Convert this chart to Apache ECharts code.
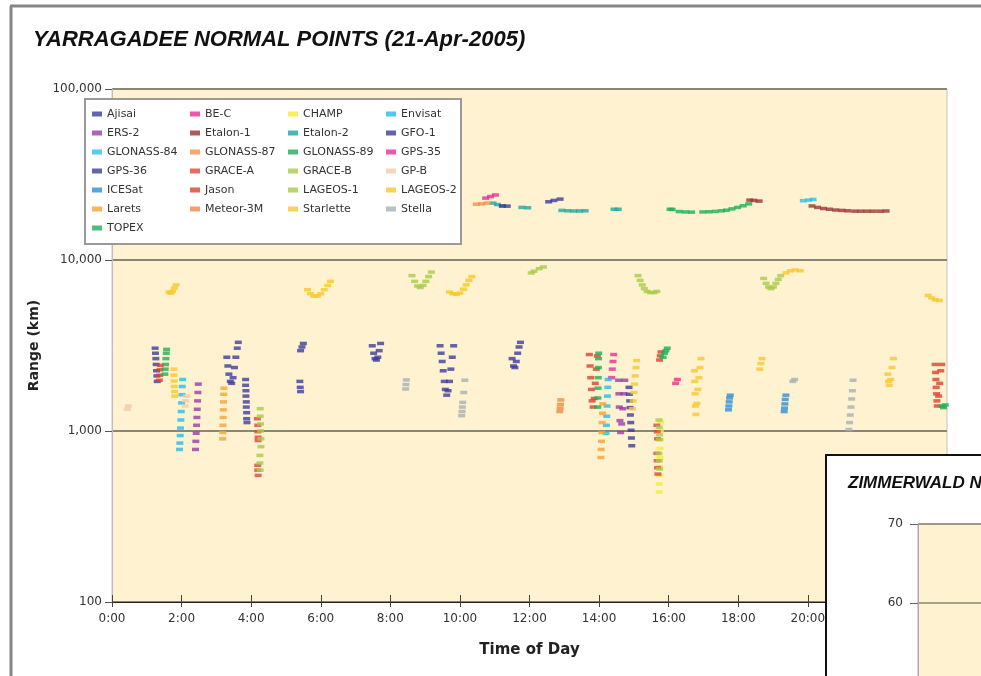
<!DOCTYPE html>
<html><head><meta charset="utf-8">
<script src="https://cdn.jsdelivr.net/npm/echarts@6/dist/echarts.min.js"></script>
<style>html,body{margin:0;padding:0;background:#fff}#c{width:981px;height:676px}</style>
</head><body><div id="c"></div>
<script>
// ---- data (hour of day, range km) ----
const satNames = ['Ajisai','BE-C','CHAMP','Envisat','ERS-2','Etalon-1','Etalon-2','GFO-1','GLONASS-84','GLONASS-87','GLONASS-89','GPS-35','GPS-36','GRACE-A','GRACE-B','GP-B','ICESat','Jason','LAGEOS-1','LAGEOS-2','Larets','Meteor-3M','Starlette','Stella','TOPEX'];
const satColors = ['#3b3c9f','#ee2d93','#f4ec3a','#22bdef','#9a3ca8','#9b3636','#21a5a5','#3b3c9f','#2ac0f0','#f0924a','#1eae58','#ee2d93','#3b3c9f','#dd4640','#a8cb48','#f6c9a6','#2d8ed6','#d9422f','#a8cb48','#f8c82c','#f7a233','#f08a42','#f8c82c','#a8b0b8','#1eae58'];

const ajisai = [[1.24,3050],[1.25,2850],[1.26,2650],[1.27,2450],[1.28,2250],[1.29,2100],[1.30,1950],
 [3.30,2700],[3.33,2400],[3.36,2150],[3.40,1950],[3.44,1900],[3.48,2050],[3.52,2350],[3.56,2700],[3.60,3050],[3.63,3300],
 [5.42,2950],[5.46,3100],[5.50,3250],
 [7.48,3150],[7.52,2850],[7.56,2650],[7.60,2600],[7.64,2700],[7.68,2950],[7.72,3250],
 [9.43,3150],[9.46,2850],[9.49,2550],[9.52,2250],[9.55,1950],[9.58,1750],[9.62,1620],[9.66,1720],[9.70,1950],[9.74,2300],[9.78,2700],[9.82,3150],
 [11.50,2650],[11.54,2400],[11.58,2350],[11.62,2550],[11.66,2850],[11.70,3100],[11.74,3300]];
const beC = [[14.36,2050],[14.38,2300],[14.40,2550],[14.42,2800],[16.20,1900],[16.25,2000]];
const champ = [[15.73,440],[15.73,490],[15.74,550],[15.74,620],[15.75,700],[15.75,790],[15.76,890],[15.76,1000],[15.77,1130]];
const envisat = [[1.94,780],[1.95,850],[1.96,940],[1.97,1040],[1.98,1160],[1.99,1300],[2.00,1460],[2.01,1630],[2.02,1820],[2.03,2000],
 [14.20,970],[14.21,1080],[14.22,1220],[14.23,1400],[14.24,1600],[14.25,1800],[14.26,2000]];
const ers2 = [[2.40,780],[2.41,870],[2.42,970],[2.43,1080],[2.44,1200],[2.45,1340],[2.46,1500],[2.47,1680],[2.48,1880],
 [14.56,1980],[14.57,1650],[14.58,1380],[14.60,1150],[14.62,980],[14.65,1100],[14.68,1350],[14.71,1650],[14.74,1980]];
const etalon1 = [[18.33,22400],[18.45,22300],[18.60,22100],
 [20.12,20700],[20.28,20300],[20.45,20000],[20.62,19800],[20.80,19600],[20.98,19500],[21.15,19400],
 [21.35,19300],[21.52,19300],[21.70,19300],[21.88,19300],[22.08,19300],[22.25,19350]];
const etalon2 = [[10.95,21500],[11.08,21100],[11.22,20700],[11.78,20300],[11.95,20200],[12.93,19500],[13.10,19400],[13.27,19350],[13.44,19350],[13.60,19400],[14.43,19800],[14.55,19800]];
const gfo1 = [[3.84,2000],[3.84,1850],[3.85,1720],[3.85,1600],[3.86,1480],[3.86,1380],[3.87,1280],[3.87,1180],[3.88,1120],
 [5.40,1950],[5.41,1800],[5.42,1700],
 [14.86,1800],[14.87,1640],[14.88,1500],[14.89,1370],[14.90,1240],[14.91,1120],[14.92,1010],[14.93,910],[14.94,820]];
const glonass84 = [[19.87,22200],[20.02,22400],[20.15,22600]];
const glonass87 = [[10.47,21200],[10.62,21300],[10.78,21500]];
const glonass89 = [[16.04,19800],[16.10,19750],[16.30,19200],[16.48,19100],[16.66,19050],[16.98,19100],[17.16,19150],[17.34,19250],[17.52,19400],[17.66,19550],[17.82,19900],[17.98,20300],[18.14,20750],[18.30,21300]];
const gps35 = [[10.74,23000],[10.88,23500],[11.02,24000]];
const gps36 = [[11.22,20700],[11.36,20650],[12.55,21900],[12.70,22300],[12.88,22700]];
const graceA = [[4.19,630],[4.19,590],[4.20,550],[4.18,1180],[4.19,1080],[4.19,990],[4.20,920],[4.20,880],
 [15.66,1080],[15.67,990],[15.68,900],[15.66,740],[15.67,670],[15.68,610],[15.69,560]];
const graceB = [[4.26,1350],[4.26,1220],[4.27,1100],[4.27,1000],[4.28,900],[4.28,810],[4.25,720],[4.25,650],[4.26,590],
 [15.72,1160],[15.73,1050],[15.74,950],[15.74,890],[15.72,740],[15.73,670],[15.74,600]];
const gpB = [[0.44,1340],[0.47,1400],[2.10,1400],[2.12,1500],[2.14,1600]];
const icesat = [[17.72,1330],[17.73,1400],[17.74,1480],[17.75,1560],[17.77,1620],[19.32,1300],[19.33,1360],[19.34,1440],[19.35,1530],[19.37,1620]];
const jason = [[1.36,1980],[1.37,2120],[1.38,2280],[1.39,2420],
 [13.72,2800],[13.74,2400],[13.76,2050],[13.78,1750],[13.80,1500],[13.83,1380],[13.86,1550],[13.89,1900],[13.92,2300],[13.95,2750],
 [15.74,2600],[15.76,2750],[15.78,2900],
 [23.66,2450],[23.67,2200],[23.68,2000],[23.69,1800],[23.70,1650],[23.71,1500],[23.72,1400],[23.76,1600],[23.79,1900],[23.82,2250],[23.85,2450]];
const lageos1 = [[8.62,8100],[8.70,7500],[8.78,7050],[8.86,6900],[8.94,7100],[9.02,7500],[9.10,8000],[9.18,8500],
 [12.05,8400],[12.13,8600],[12.28,8900],[12.40,9100],
 [15.12,8100],[15.18,7600],[15.24,7150],[15.30,6800],[15.38,6550],[15.48,6450],[15.58,6450],[15.66,6550],
 [18.73,7800],[18.80,7300],[18.87,6950],[18.94,6800],[19.01,6950],[19.08,7300],[19.15,7700],[19.22,8100]];
const lageos2 = [[1.64,6500],[1.69,6400],[1.74,6550],[1.79,6850],[1.84,7150],
 [5.62,6700],[5.70,6350],[5.80,6150],[5.90,6150],[6.00,6350],[6.10,6700],[6.20,7100],[6.28,7500],
 [9.70,6500],[9.80,6350],[9.90,6300],[10.00,6400],[10.10,6750],[10.18,7150],[10.26,7600],[10.34,8000],
 [19.37,8400],[19.50,8650],[19.64,8750],[19.78,8650],
 [23.46,6200],[23.56,6000],[23.66,5850],[23.78,5800]];
const larets = [[3.18,900],[3.185,980],[3.19,1080],[3.195,1200],[3.20,1330],[3.205,1480],[3.21,1640],[3.215,1780],
 [14.05,700],[14.06,780],[14.07,870],[14.08,980],[14.09,1120],[14.10,1270],[14.11,1440]];
const meteor3m = [[12.87,1300],[12.88,1360],[12.89,1430],[12.90,1520]];
const starlette = [[1.78,2300],[1.78,2120],[1.79,1960],[1.79,1820],[1.80,1700],[1.80,1600],
 [14.96,1350],[14.98,1500],[15.00,1680],[15.02,1880],[15.04,2100],[15.06,2350],[15.08,2580],
 [16.74,2250],[16.75,1950],[16.76,1650],[16.77,1400],[16.78,1250],[16.81,1450],[16.84,1750],[16.87,2050],[16.90,2350],[16.93,2650],
 [18.62,2300],[18.65,2480],[18.68,2650],
 [22.30,2150],[22.32,1950],[22.34,1850],[22.38,2000],[22.42,2350],[22.46,2650]];
const stella = [[8.44,1760],[8.45,1870],[8.46,1990],
 [10.05,1230],[10.06,1300],[10.07,1380],[10.08,1470],[10.11,1680],[10.14,1980],
 [19.57,1950],[19.62,2000],
 [21.18,1020],[21.20,1120],[21.22,1240],[21.24,1380],[21.26,1540],[21.28,1720],[21.30,1980]];
const topex = [[1.52,2150],[1.53,2300],[1.54,2450],[1.55,2650],[1.56,2850],[1.57,3000],
 [13.96,1380],[13.965,1560],[13.97,1780],[13.975,2050],[13.98,2350],[13.985,2650],[13.99,2850],
 [15.84,2700],[15.88,2850],[15.92,2950],[15.96,3050],
 [23.86,1400],[23.90,1370],[23.95,1420]];
const satData = [ajisai,beC,champ,envisat,ers2,etalon1,etalon2,gfo1,glonass84,glonass87,glonass89,gps35,gps36,graceA,graceB,gpB,icesat,jason,lageos1,lageos2,larets,meteor3m,starlette,stella,topex];
const xTicks = ['0:00','2:00','4:00','6:00','8:00','10:00','12:00','14:00','16:00','18:00','20:00','22:00','24:00'];

const chart = echarts.init(document.getElementById('c'));
const F = 'DejaVu Sans';
const series = satNames.map((n,i)=>({
  name:n, type:'scatter', xAxisIndex:0, yAxisIndex:0, data:satData[i],
  symbol:'rect', symbolSize:[7,3.5], itemStyle:{color:satColors[i]}, z:2
}));
chart.setOption({
  animation:false,
  backgroundColor:'#fff',
  color:satColors,
  title:[
    {text:'YARRAGADEE NORMAL POINTS (21-Apr-2005)', left:28, top:24, textStyle:{fontFamily:'Liberation Sans',fontStyle:'italic',fontWeight:'bold',fontSize:22,color:'#111'}},
    {text:'ZIMMERWALD NORMAL POINTS', left:843, top:470, z:30, textStyle:{fontFamily:'Liberation Sans',fontStyle:'italic',fontWeight:'bold',fontSize:17,color:'#111'}}
  ],
  legend:{
    data:satNames, left:92, top:108, width:420, orient:'horizontal', padding:0,
    itemWidth:10, itemHeight:5, itemGap:7, icon:'rect', z:5,
    textStyle:{fontFamily:F,fontSize:11,color:'#333',width:76,lineHeight:12}
  },
  grid:[
    {left:112, top:89, width:835, height:513, outerBoundsMode:'none', show:true, backgroundColor:'#fef2d0', borderColor:'#c4c4c4', borderWidth:1},
    {left:918, top:524, width:200, height:316, outerBoundsMode:'none', show:true, backgroundColor:'#fef2d0', borderColor:'#aaa', borderWidth:1, z:20}
  ],
  xAxis:[
    {gridIndex:0, type:'value', min:0, max:24, interval:2,
     name:'Time of Day', nameLocation:'middle', nameGap:41, nameTextStyle:{fontFamily:F,fontWeight:'bold',fontSize:15,color:'#222'},
     axisLine:{lineStyle:{color:'#222',width:1}}, axisTick:{length:5,lineStyle:{color:'#444'}},
     axisLabel:{fontFamily:F,fontSize:12,color:'#333',margin:11,formatter:(v)=>xTicks[v/2]}, splitLine:{show:false}},
    {gridIndex:0, type:'value', min:0, max:24, interval:2, position:'bottom',
     axisLine:{show:false}, axisLabel:{show:false}, splitLine:{show:false},
     axisTick:{inside:true,length:7,lineStyle:{color:'#444'}}},
    {gridIndex:1, type:'value', min:0, max:1, show:false, z:20}
  ],
  yAxis:[
    {gridIndex:0, type:'log', logBase:10, min:100, max:100000,
     name:'Range (km)', nameLocation:'middle', nameGap:65, nameRotate:90, nameTextStyle:{fontFamily:F,fontWeight:'bold',fontSize:14,color:'#222'},
     axisLine:{show:true,lineStyle:{color:'#bdbdbd'}}, axisTick:{show:true,length:7,lineStyle:{color:'#555'}},
     axisLabel:{fontFamily:F,fontSize:12,color:'#333',margin:10,formatter:(v)=>String(Math.round(v)).replace(/\B(?=(\d{3})+(?!\d))/g,',')},
     splitLine:{show:true,lineStyle:{color:'#8a8676',width:2}}, minorSplitLine:{show:false}},
    {gridIndex:1, type:'value', min:30, max:70, interval:10, z:20,
     axisLine:{show:true,lineStyle:{color:'#aaa'}}, axisTick:{show:true,length:8,lineStyle:{color:'#666'}},
     axisLabel:{fontFamily:F,fontSize:12,color:'#333',margin:15},
     splitLine:{show:true,lineStyle:{color:'#8a8676',width:1.5}}}
  ],
  graphic:[
    {type:'line', z:50, shape:{x1:10,y1:6,x2:981,y2:6}, style:{stroke:'#858585',lineWidth:3}},
    {type:'line', z:50, shape:{x1:11,y1:6,x2:11,y2:676}, style:{stroke:'#858585',lineWidth:3}},
    {type:'rect', z:3, shape:{x:85,y:99,width:376,height:145}, style:{fill:'#fff',stroke:'#9a9a9a',lineWidth:2}},
    {type:'rect', z:15, shape:{x:826,y:455,width:200,height:260}, style:{fill:'#fff',stroke:'#111',lineWidth:2}}
  ],
  series:series
});
</script></body></html>
